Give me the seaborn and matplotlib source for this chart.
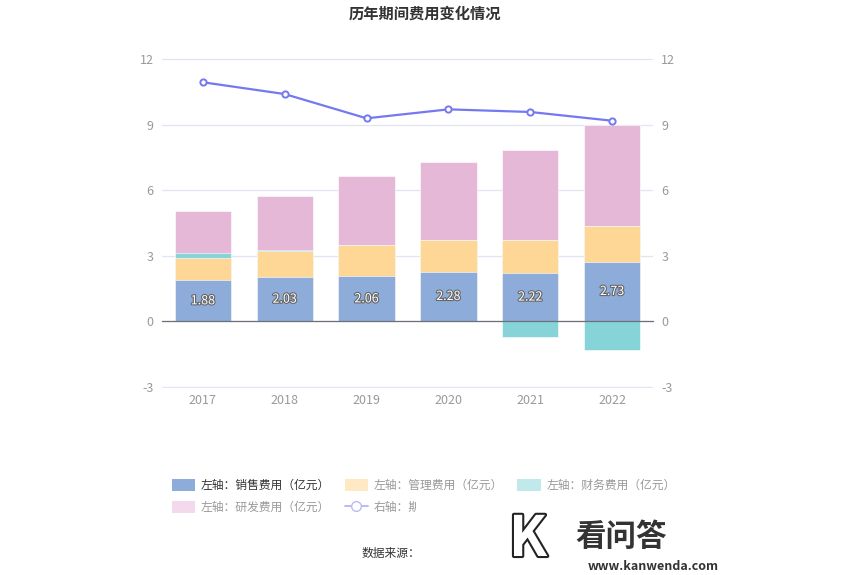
import matplotlib
matplotlib.use('Agg')
import matplotlib.pyplot as plt
import matplotlib.patheffects as pe
from matplotlib.patches import Patch, Rectangle
from matplotlib.lines import Line2D
import seaborn as sns
import numpy as np

# data
years = ['2017', '2018', '2019', '2020', '2021', '2022']
sales = [1.88, 2.03, 2.06, 2.28, 2.22, 2.73]       # 销售费用
admin = [1.02, 1.18, 1.42, 1.45, 1.51, 1.62]       # 管理费用
finance = [0.25, 0.07, 0.0, 0.0, -0.70, -1.33]     # 财务费用
rnd = [1.90, 2.44, 3.16, 3.54, 4.09, 4.65]         # 研发费用
rate = [10.94, 10.40, 9.29, 9.70, 9.58, 9.18]      # 期间费用率

c_blue, c_orange, c_teal, c_pink = '#8dacd9', '#fed797', '#86d4d8', '#e6b8d8'
c_line = '#7479f0'

sns.set_theme(style='white')
plt.rcParams['font.family'] = ['Noto Sans CJK SC', 'DejaVu Sans']
plt.rcParams['axes.unicode_minus'] = False

fig = plt.figure(figsize=(8.5, 5.75), dpi=100)
ax = fig.add_axes([162 / 850, 1 - 388 / 575, 491 / 850, 330 / 575])

s = np.array(sales)
a = np.array(admin)
f = np.array(finance)
r = np.array(rnd)
fpos = np.clip(f, 0, None)
fneg = np.clip(f, None, 0)

# stacked bars drawn as cumulative totals, top layer first
layers = [(s + a + fpos + r, c_pink), (s + a + fpos, c_teal), (s + a, c_orange), (s, c_blue)]
for vals, col in layers:
    sns.barplot(x=years, y=vals, color=col, width=0.69, saturation=1,
                edgecolor='white', linewidth=0.4, ax=ax)
sns.barplot(x=years, y=fneg, color=c_teal, width=0.69, saturation=1,
            edgecolor='white', linewidth=0.4, ax=ax)

for i, v in enumerate(sales):
    ax.text(i, v / 2, f'{v:.2f}', ha='center', va='center', fontsize=9, color='white',
            path_effects=[pe.withStroke(linewidth=1.6, foreground='#666666')], zorder=5)

ax.set_ylim(-3.05, 12.05)
ax.set_xlim(-0.5, 5.5)
ax.set_yticks([-3, 0, 3, 6, 9, 12])
ax.grid(axis='y', color='#e0e6f1', linewidth=0.9)
ax.set_axisbelow(True)
for sp in ['top', 'right', 'left']:
    ax.spines[sp].set_visible(False)
ax.spines['bottom'].set_position(('data', 0))
ax.spines['bottom'].set_color('#6e7079')
ax.spines['bottom'].set_linewidth(0.9)
ax.tick_params(axis='x', length=4, width=0.9, color='#6e7079', direction='out',
               pad=48, labelsize=9, labelcolor='#999999')
ax.tick_params(axis='y', length=0, pad=6, labelsize=9, labelcolor='#999999')
ax.set_xlabel('')
ax.set_ylabel('')

ax2 = ax.twinx()
sns.lineplot(x=np.arange(len(years)), y=rate, ax=ax2, color=c_line, linewidth=1.6,
             marker='o', markersize=4.5, markerfacecolor='white', markeredgecolor=c_line,
             markeredgewidth=1.4)
ax2.set_ylim(-3.05, 12.05)
ax2.set_xlim(-0.5, 5.5)
ax2.set_yticks([-3, 0, 3, 6, 9, 12])
ax2.tick_params(axis='y', length=0, pad=6, labelsize=9, labelcolor='#999999')
for sp in ax2.spines.values():
    sp.set_visible(False)
ax2.grid(False)

fig.text(0.5, 1 - 14 / 575, '历年期间费用变化情况', ha='center', va='center',
         fontsize=11, fontweight='bold', color='#333333')

handles = [
    Patch(facecolor=c_blue, edgecolor='none'),
    Patch(facecolor='#f4d9ec', edgecolor='none'),
    Patch(facecolor='#ffe9c4', edgecolor='none'),
    Line2D([0], [0], color='#b9bbf6', marker='o', markersize=7, markerfacecolor='white',
           markeredgecolor='#b9bbf6', linewidth=1.4),
    Patch(facecolor='#bfe9ea', edgecolor='none'),
]
labels = ['左轴：销售费用（亿元）', '左轴：研发费用（亿元）', '左轴：管理费用（亿元）',
          '右轴：期间费用率（%）', '左轴：财务费用（亿元）']
leg = fig.legend(handles, labels, ncol=3, loc='upper left',
                 bbox_to_anchor=(161 / 850, 1 - 468 / 575), frameon=False,
                 fontsize=8.5, handlelength=2.0, handleheight=1.2, handletextpad=0.5,
                 columnspacing=1.2, labelspacing=0.75)
for i, t in enumerate(leg.get_texts()):
    t.set_color('#333333' if i == 0 else '#999999')

fig.text(362 / 850, 1 - 553 / 575, '数据来源：公开资料', ha='left', va='center',
         fontsize=8.5, color='#333333')

# watermark region
fig.patches.append(Rectangle((416 / 850, 0), 434 / 850, 1 - 496 / 575,
                             transform=fig.transFigure, facecolor='white',
                             edgecolor='none', zorder=9))
fig.text(528 / 850, 1 - 540 / 575, 'K', ha='center', va='center', fontsize=40,
         fontweight='bold', color='white', zorder=10,
         path_effects=[pe.withStroke(linewidth=3, foreground='#222222')])
fig.text(575 / 850, 1 - 537 / 575, '看问答', ha='left', va='center', fontsize=22,
         fontweight='bold', color='#333333', zorder=10)
fig.text(588 / 850, 1 - 566 / 575, 'www.kanwenda.com', ha='left', va='center',
         fontsize=9, fontweight='bold', color='#333333', zorder=10)

fig.savefig('out.png', dpi=100)
